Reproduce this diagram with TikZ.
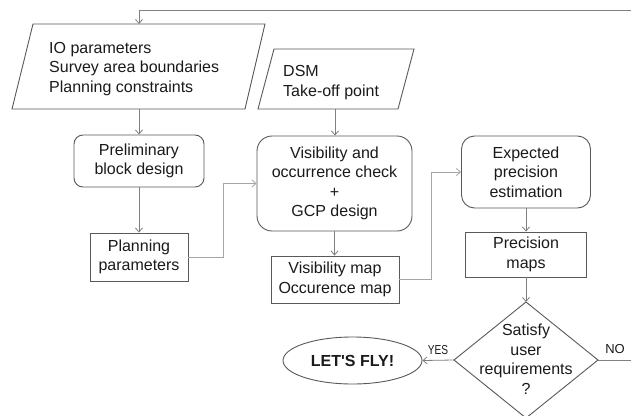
\documentclass[tikz,border=0pt]{standalone}
\usepackage{fontspec}
\setmainfont{Liberation Sans}
\usetikzlibrary{shapes.geometric,arrows.meta}
\definecolor{boxc}{HTML}{595959}
\definecolor{linec}{HTML}{808080}
\definecolor{lightc}{HTML}{A6A6A6}
\definecolor{txtc}{HTML}{1A1A1A}
\begin{document}
\begin{tikzpicture}[x=1pt,y=-1pt, font=\fontsize{16}{19.5}\selectfont, text=txtc,
  box/.style={draw=boxc, line width=0.9pt, align=center, inner sep=0pt},
  rbox/.style={box, rounded corners=9pt},
  para/.style={draw=boxc, line width=0.9pt},
  conn/.style={draw=linec, line width=0.8pt, -{Straight Barb[length=4pt,width=7pt]}},
  lconn/.style={conn, draw=lightc},
  lbl/.style={font=\fontsize{13}{15}\selectfont, inner sep=0pt}]
\useasboundingbox (0,0) rectangle (631,415);
\fill[white] (0,0) rectangle (631,415);

% input parallelograms
\draw[para] (33,24) -- (265,24) -- (245,109) -- (12,109) -- cycle;
\node[anchor=west, align=left, inner sep=0pt] (io) at (49,69) {IO parameters\\Survey area boundaries\\Planning constraints};
\coordinate (ioT) at (139,24);
\coordinate (ioB) at (139,109);

\draw[para] (274,49) -- (414,49) -- (398,109) -- (258,109) -- cycle;
\node[anchor=west, align=left, inner sep=0pt] (dsm) at (283,82.5) {DSM\\Take-off point};
\coordinate (dsmB) at (335,109);

% process boxes
\node[rbox, minimum width=130, minimum height=52] (pre) at (139,161) {Preliminary\\block design};
\node[box, minimum width=98, minimum height=48] (plan) at (139,257) {Planning\\parameters};
\node[rbox, rounded corners=15pt, minimum width=155, minimum height=95] (vis) at (334.5,183.5) {Visibility and\\occurrence check\\+\\GCP design};
\node[box, minimum width=128, minimum height=47] (vmap) at (335,279.5) {Visibility map\\Occurence map};
\node[rbox, rounded corners=13pt, minimum width=129, minimum height=72] (exp) at (526,172) {Expected\\precision\\estimation};
\node[box, minimum width=121, minimum height=45] (prec) at (526,254.5) {Precision\\maps};

% decision
\draw[para] (526,302) -- (598,360) -- (526,418) -- (454,360) -- cycle;
\coordinate (diaT) at (526,302);
\coordinate (diaR) at (598,360);
\coordinate (diaL) at (454,360);
\node[align=center, inner sep=0pt] (dia) at (526,359) {Satisfy\\user\\requirements\\?};

% end
\node[draw=boxc, line width=0.9pt, ellipse, minimum width=139, minimum height=47, inner sep=0pt, font=\fontsize{16}{19.5}\selectfont\bfseries] (fly) at (352.5,360.5) {LET\textquotesingle S FLY!};

% connectors
\coordinate (rr) at (633,360);
\coordinate (tl) at (139,10.5);
\draw[conn] (diaR) -- (rr) |- (tl) -- (ioT);
\draw[conn] (ioB) -- (pre);
\draw[conn] (pre) -- (plan);
\draw[lconn] (plan.east) -- ++(35,0) |- (vis.west);
\draw[conn] (dsmB) -- (dsmB |- vis.north);
\draw[conn] (vis.south) -- (vis.south |- vmap.north);
\draw[lconn] (vmap.east) -- ++(32,0) |- (exp.west);
\draw[conn] (exp.south) -- (exp.south |- prec.north);
\draw[conn] (prec.south) -- (diaT);
\draw[conn] (diaL) -- (fly.east);

\node[lbl] (yes) at (438,350) {\scalebox{0.78}[1]{YES}};
\node[lbl] (no) at (615,349.5) {NO};
\end{tikzpicture}
\end{document}
